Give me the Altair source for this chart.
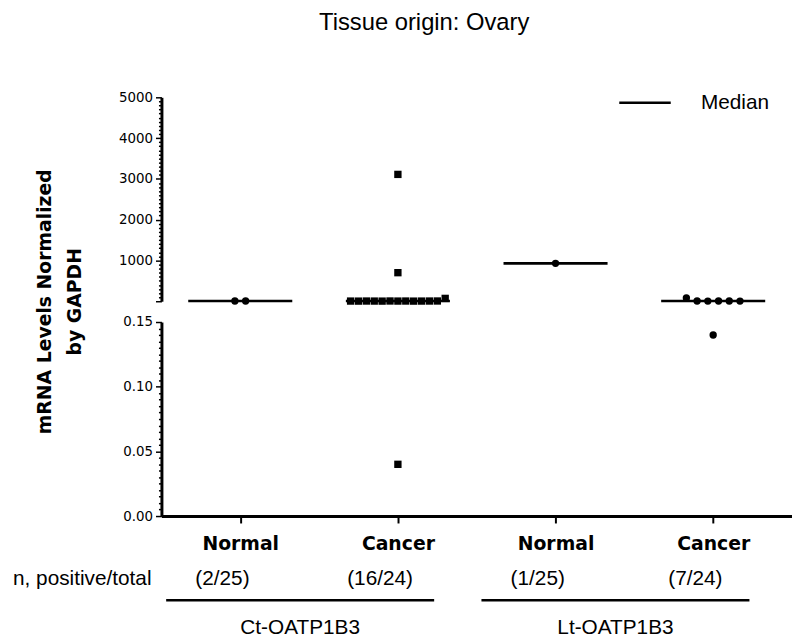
import altair as alt
import pandas as pd

# ---------------- data ----------------
title_text = "Tissue origin: Ovary"
categories = ["Normal", "Cancer", "Normal", "Cancer"]
transcripts = ["Ct-OATP1B3", "Ct-OATP1B3", "Lt-OATP1B3", "Lt-OATP1B3"]
n_positive = ["(2/25)", "(16/24)", "(1/25)", "(7/24)"]
ct_normal = [5, 6]
ct_cancer = [4, 3, 5, 4, 3, 6, 4, 5, 3, 4, 5, 6, 70, 700, 3110, 0.04]
lt_normal = [930]
lt_cancer = [80, 5, 4, 6, 5, 4, 0.14]
medians = [5, 5, 930, 5]
y_title = ["mRNA Levels Normalized", "by GAPDH"]
row_label = "n, positive/total"
legend_label = "Median"
upper_domain = [0, 5000]
lower_domain = [0, 0.15]

# ---------------- tables ----------------
rows = []
for i, vals in enumerate([ct_normal, ct_cancer, lt_normal, lt_cancer]):
    for j, v in enumerate(vals):
        rows.append({"key": i + 1, "cat": categories[i], "v": v, "order": j})
pts = pd.DataFrame(rows)

med = pd.DataFrame({"key": [1, 2, 3, 4], "v": medians, "label": legend_label})
med["x1"] = med["key"] - 0.33
med["x2"] = med["key"] + 0.33

lab = pd.DataFrame({"key": [1, 2, 3, 4], "n": n_positive})

tr_names = list(dict.fromkeys(transcripts))
tr_rows = []
for name in tr_names:
    ks = [i + 1 for i, t in enumerate(transcripts) if t == name]
    tr_rows.append({"name": name, "start": min(ks) - 0.47, "end": max(ks) + 0.23})
tr = pd.DataFrame(tr_rows)
tr["center"] = (tr["start"] + tr["end"]) / 2

rowlab = pd.DataFrame({"t": [row_label]})

# ---------------- scales / axes ----------------
xscale = alt.Scale(domain=[0.5, 4.5], nice=False, zero=False)
label_js = "[''," + ",".join("'%s'" % c for c in categories) + "]"
x_axis = alt.Axis(
    values=[1, 2, 3, 4], labelExpr=label_js + "[datum.value]", title=None,
    tickSize=7, tickWidth=2, domainWidth=3, grid=False,
    labelFont="DejaVu Sans", labelFontWeight="bold", labelFontSize=19,
    labelPadding=12,
)


def xenc(field):
    return alt.X(field + ":Q", scale=xscale, axis=x_axis)


upper_ticks = list(range(0, 5001, 100))
upper_axis = alt.Axis(
    values=upper_ticks, labelOverlap=False, grid=False,
    labelExpr="datum.value % 1000 === 0 && datum.value > 0 ? format(datum.value, 'd') : ''",
    tickSize={"condition": {"test": "datum.value % 1000 === 0", "value": 6}, "value": 3},
    tickWidth=1.5, domainWidth=3, labelPadding=3,
    labelFont="DejaVu Sans", labelFontSize=13.5,
    title=y_title, titleX=-112, titleY=206, titleAngle=270, titleAlign="center",
    titleBaseline="alphabetic", titleFont="DejaVu Sans", titleFontWeight="bold",
    titleFontSize=19, titleLineHeight=30,
)
lower_ticks = [round(i * 0.005, 3) for i in range(31)]
lower_axis = alt.Axis(
    values=lower_ticks, labelOverlap=False, grid=False,
    labelExpr="abs(datum.value*20 - round(datum.value*20)) < 1e-6 ? format(datum.value, '.2f') : ''",
    tickSize={"condition": {"test": "abs(datum.value*20 - round(datum.value*20)) < 1e-6", "value": 6}, "value": 3},
    tickWidth=1.5, domainWidth=3, labelPadding=3,
    labelFont="DejaVu Sans", labelFontSize=13.5, title=None,
)

shape_scale = alt.Scale(domain=[1, 2, 3, 4], range=["circle", "square", "circle", "circle"])


def swarm(base):
    return base.transform_calculate(
        level="datum.v > 0.15 ? floor(datum.v / 250) : -1 - floor(datum.v / 0.01)"
    ).transform_window(
        rank="row_number()", groupby=["key", "level"], sort=[alt.SortField("order")]
    ).transform_joinaggregate(
        n="count()", groupby=["key", "level"]
    ).transform_calculate(
        spacing="datum.key == 2 ? 0.05 : 0.068"
    ).transform_calculate(
        xpos="datum.key + (datum.rank - (datum.n + 1) / 2) * datum.spacing"
    )


point_mark = dict(filled=True, opacity=1, color="black", size=55)

# ---------------- upper panel ----------------
yu = alt.Y("v:Q", scale=alt.Scale(domain=upper_domain, nice=False), axis=upper_axis)
up_pts = swarm(alt.Chart(pts)).transform_filter("datum.v > 0.15").mark_point(**point_mark).encode(
    x=alt.X("xpos:Q", scale=xscale, axis=None),
    y=yu,
    shape=alt.Shape("key:O", scale=shape_scale, legend=None),
)
up_med = alt.Chart(med).mark_rule(strokeWidth=2.7).encode(
    x=alt.X("x1:Q", scale=xscale, axis=None),
    x2="x2:Q",
    y=yu,
    color=alt.Color(
        "label:N", scale=alt.Scale(range=["black"]),
        legend=alt.Legend(
            title=None, orient="none", legendX=461, legendY=-22,
            symbolType="stroke", symbolSize=2704, symbolStrokeWidth=2.5,
            labelFont="Liberation Sans", labelFontSize=21, labelOffset=29,
            labelColor="black",
        ),
    ),
)
upper = alt.layer(up_pts, up_med).properties(width=637, height=206)

# ---------------- lower panel ----------------
yl = alt.Y("v:Q", scale=alt.Scale(domain=lower_domain, nice=False), axis=lower_axis)
lo_pts = swarm(alt.Chart(pts)).transform_filter("datum.v <= 0.15").mark_point(**point_mark).encode(
    x=xenc("xpos"),
    y=yl,
    shape=alt.Shape("key:O", scale=shape_scale, legend=None),
)
txt = dict(font="Liberation Sans", fontSize=21, color="black", baseline="middle")
lo_n = alt.Chart(lab).mark_text(dx=-18, **txt).encode(
    x=xenc("key"), y=alt.value(260), text="n:N"
)
lo_rowlab = alt.Chart(rowlab).mark_text(align="right", **txt).encode(
    x=alt.value(-10), y=alt.value(260), text="t:N"
)
lo_line = alt.Chart(tr).mark_rule(strokeWidth=2.5, color="black").encode(
    x=xenc("start"), x2="end:Q", y=alt.value(281)
)
lo_tr = alt.Chart(tr).mark_text(
    font="Liberation Sans", fontSize=21, color="black", baseline="alphabetic"
).encode(
    x=xenc("center"), y=alt.value(315), text="name:N"
)
lower = alt.layer(lo_pts, lo_n, lo_rowlab, lo_line, lo_tr).properties(width=637, height=196)

chart = alt.vconcat(upper, lower, spacing=21, bounds="flush").properties(
    title=alt.TitleParams(
        title_text, font="Liberation Sans", fontSize=24, fontWeight="normal",
        anchor="middle", color="black", offset=41, dx=22,
    ),
    padding={"left": 4, "top": 0, "right": 0, "bottom": 0},
).resolve_legend(color="independent").configure_view(stroke=None).configure_axis(
    domainColor="black", tickColor="black", labelColor="black", titleColor="black"
)

chart.save("out.html", embed_options={"renderer": "svg", "actions": False})
